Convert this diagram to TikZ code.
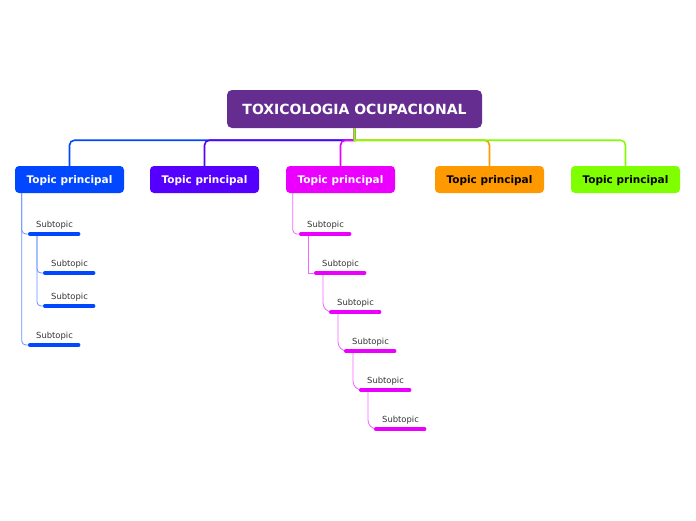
\documentclass[tikz,border=0pt]{standalone}
\usepackage{fontspec}
\setmainfont{DejaVu Sans}

\definecolor{rootcol}{RGB}{102,45,145}
\definecolor{c1}{RGB}{0,71,255}
\definecolor{c2}{RGB}{85,0,255}
\definecolor{c3}{RGB}{235,0,255}
\definecolor{c4}{RGB}{255,153,0}
\definecolor{c5}{RGB}{128,255,0}

\begin{document}
\begin{tikzpicture}[
      x = 1pt, y = -1pt,
      root/.style = {
        fill = rootcol, text = white, rounded corners = 5pt,
        minimum width = 255pt, minimum height = 38pt,
        font = \fontsize{14}{16}\selectfont\bfseries},
      topic/.style = {
        rounded corners = 4pt, minimum width = 109pt, minimum height = 27pt,
        text depth = 0pt, font = \fontsize{10.5}{12}\selectfont\bfseries},
      subtopic/.style = {
        anchor = south west, text width = 36pt, align = left,
        inner xsep = 8pt, inner ysep = 4.5pt, text = black!80,
        font = \fontsize{8.4}{10}\selectfont},
      branch/.style = {line width = 1.6pt},
      twig/.style = {line width = .8pt, rounded corners = 4pt},
      ubar/.style = {line width = 3.6pt, line cap = round,
        shorten < = 1.8pt, shorten > = 1.8pt}
      ]
    \useasboundingbox (0,0) rectangle (696,520);
    \node[root] (root) at (354.5,109) {TOXICOLOGIA OCUPACIONAL};
    \node[topic, fill = c1, text = white] (t1) at (69.5,179.5) {Topic principal}; % 1
    \node[topic, fill = c2, text = white] (t2) at (204.5,179.5) {Topic principal}; % 2
    \node[topic, fill = c3, text = white] (t3) at (340.5,179.5) {Topic principal}; % 3
    \node[topic, fill = c4] (t4) at (489.5,179.5) {Topic principal}; % 4
    \node[topic, fill = c5] (t5) at (625.5,179.5) {Topic principal}; % 5
    \coordinate (hub) at ([yshift=-12pt]root.south);
    \foreach \t/\c in {t1/c1, t2/c2, t3/c3, t4/c4, t5/c5}
      \draw[branch, \c] (root.south) -- (hub) {[rounded corners = 5pt] -| (\t.north)};
    % subtopics of topic 1
    \node[subtopic] (a1) at (28,234) {Subtopic};
    \node[subtopic] (a11) at (43,273) {Subtopic};
    \node[subtopic] (a12) at (43,306) {Subtopic};
    \node[subtopic] (a2) at (28,345) {Subtopic};
    \draw[twig, c1!60] ([xshift=7pt]t1.south west) |- (a1.south west);
    \draw[twig, c1!60] ([xshift=7pt]t1.south west) |- (a2.south west);
    \draw[twig, c1!60] ([xshift=9pt]a1.south west) |- (a11.south west);
    \draw[twig, c1!60] ([xshift=9pt]a1.south west) |- (a12.south west);
    \foreach \s in {a1, a11, a12, a2}
      \draw[ubar, c1] (\s.south west) -- (\s.south east);
    % subtopics of topic 3
    \node[subtopic] (b1) at (299,234) {Subtopic};
    \node[subtopic] (b2) at (314,273) {Subtopic};
    \node[subtopic] (b3) at (329,312) {Subtopic};
    \node[subtopic] (b4) at (344,351) {Subtopic};
    \node[subtopic] (b5) at (359,390) {Subtopic};
    \node[subtopic] (b6) at (374,429) {Subtopic};
    \draw[twig, c3!60] ([xshift=7pt]t3.south west) |- (b1.south west);
    \draw[twig, c3!60, sharp corners] ([xshift=9pt]b1.south west) |- (b2.south west);
    \foreach \p/\s in {b2/b3, b3/b4, b4/b5, b5/b6}
      \draw[twig, c3!60, rounded corners = 9pt] ([xshift=9pt]\p.south west) |- (\s.south west);
    \foreach \s in {b1, b2, b3, b4, b5, b6}
      \draw[ubar, c3] (\s.south west) -- (\s.south east);
  \end{tikzpicture}
\end{document}
